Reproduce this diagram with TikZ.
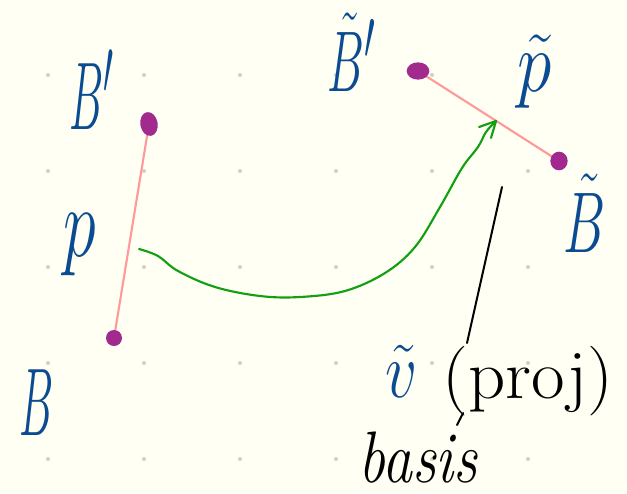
\documentclass[tikz,border=0pt]{standalone}
\usetikzlibrary{shapes.geometric}
\definecolor{bgc}{HTML}{FFFFF4}
\definecolor{hblue}{HTML}{0A4B91}
\definecolor{hmag}{HTML}{A22A8E}
\definecolor{hpink}{HTML}{FF9A9A}
\definecolor{hgreen}{HTML}{12A012}
\definecolor{gdot}{HTML}{CFCFCF}
\begin{document}
\begin{tikzpicture}[x=0.75pt,y=-0.75pt,
  hw/.style={text=hblue,inner sep=0pt,font=\Huge},
  hwk/.style={text=black,inner sep=0pt,font=\Huge},
  blob/.style={shape=ellipse,fill=hmag,draw=none,inner sep=0pt},
  griddot/.style={shape=circle,fill=gdot,draw=none,inner sep=0pt,minimum size=3pt},
  pinkline/.style={draw=hpink,line width=1.6pt},
  greenline/.style={draw=hgreen,line width=1.6pt,line cap=round,line join=round},
  blackline/.style={draw=black,line width=1.5pt,line cap=round}]
\useasboundingbox (0,0) rectangle (627,493);
\fill[bgc] (0,0) rectangle (627,493);
% grid dots
\foreach \i in {0,...,5}{
  \foreach \j in {0,...,4}{
    \node[griddot] (g\i\j) at ({48+96*\i},{75+96*\j}) {};
  }
}
% endpoints
\coordinate (a1) at (149,124);
\coordinate (a2) at (114,338);
\coordinate (c1) at (418,71);
\coordinate (c2) at (559,161);
\draw[pinkline] (a1) -- (a2);
\draw[pinkline] (c1) -- (c2);
\node[blob,minimum width=13pt,minimum height=18pt,rotate=10] (A1) at (a1) {};
\node[blob,minimum width=12pt,minimum height=12pt] (A2) at (a2) {};
\node[blob,minimum width=17pt,minimum height=13pt] (C1) at (c1) {};
\node[blob,minimum width=13pt,minimum height=14pt] (C2) at (c2) {};
% green arrow
\coordinate (gs) at (139,249);
\coordinate (gt) at (496,121);
\coordinate (gl) at (479,127);
\coordinate (gr) at (491,138);
\draw[greenline] plot[smooth,tension=0.6] coordinates {(139,249) (158,256) (178,271) (215,287) (260,296) (300,297) (345,291) (385,273) (415,247) (440,207) (462,168) (478,147) (486,132) (496,121)};
\draw[greenline] (gl) -- (gt) -- (gr);
% black pointer line
\coordinate (k1) at (502,187);
\coordinate (k2) at (467,343);
\coordinate (k3) at (463,413);
\coordinate (k4) at (457,425);
\draw[blackline] (k1) -- (k2);
\draw[blackline] (k3) -- (k4);
% labels
\node[hw,xscale=1.3,yscale=2.9] (tBp) at (92,90) {$B'$};
\node[hw,xscale=2.0,yscale=3.0] (tp) at (80,245) {$p$};
\node[hw,xscale=1.3,yscale=2.9] (tB) at (37,403) {$B$};
\node[hw,xscale=1.4,yscale=2.6] (ttBp) at (352,52) {$\tilde B'$};
\node[hw,xscale=2.1,yscale=2.6] (ttp) at (535,72) {$\tilde p$};
\node[hw,xscale=1.6,yscale=2.6] (ttB) at (585,213) {$\tilde B$};
\node[hw,xscale=1.9,yscale=2.4] (ttv) at (402,371) {$\tilde v$};
\node[hwk,xscale=2.2,yscale=2.1] (tproj) at (528,381) {(proj)};
\node[hwk,xscale=1.8,yscale=2.2] (tbasis) at (418,458) {\itshape basis};
\end{tikzpicture}
\end{document}
